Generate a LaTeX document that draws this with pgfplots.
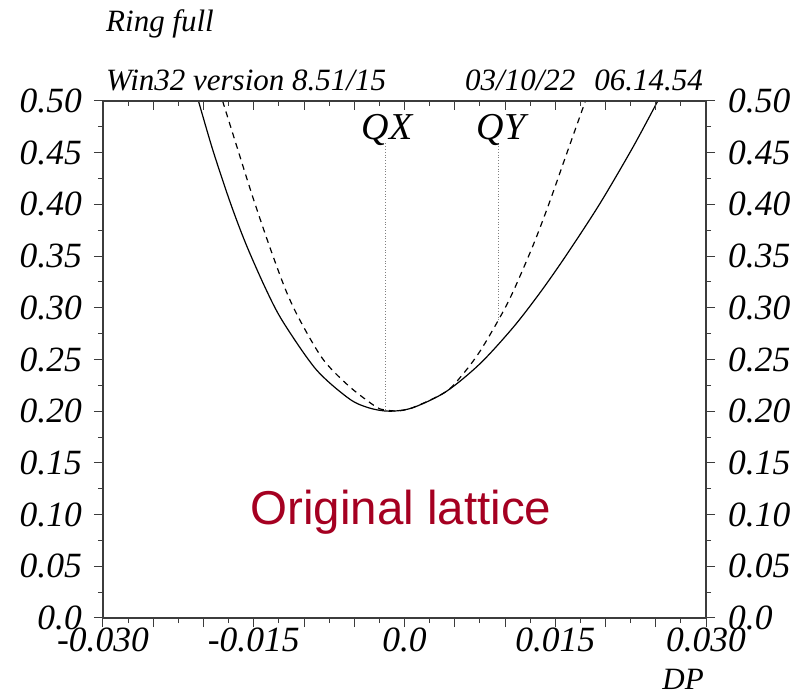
\documentclass[border=0pt]{standalone}
\usepackage{pgfplots}
\pgfplotsset{compat=1.18}
\usepackage{fontspec}
\setmainfont{Liberation Serif}
\newfontfamily\arialfont{Liberation Sans}
\definecolor{lattred}{RGB}{165,0,33}
\definecolor{axgray}{RGB}{60,60,60}
\newcommand{\tickfont}{\fontsize{35.5bp}{36bp}\selectfont\itshape}
\newcommand{\headfont}{\fontsize{31bp}{32bp}\selectfont\itshape}
\begin{document}
\begin{tikzpicture}[x=1bp,y=1bp]
\pgfplotsset{common/.style={
  scale only axis, width=603bp, height=517bp,
  xmin=-0.03, xmax=0.03, ymin=0, ymax=0.5,
  scaled x ticks=false, scaled y ticks=false,
  axis line style={line width=1.2bp, axgray},
  every tick/.style={line width=1bp, axgray},
  major tick length=9bp, minor tick length=5bp,
  xtick={-0.03,-0.025,-0.02,-0.015,-0.01,-0.005,0,0.005,0.01,0.015,0.02,0.025,0.03},
  minor x tick num=1,
  ytick={0,0.05,0.1,0.15,0.2,0.25,0.3,0.35,0.4,0.45,0.5},
  minor y tick num=1,
  yticklabels={0.0,0.05,0.10,0.15,0.20,0.25,0.30,0.35,0.40,0.45,0.50},
  xticklabels={-0.030,,,-0.015,,,0.0,,,0.015,,,0.030},
  clip=false,
}}
% main axis
\begin{axis}[common,
  tick align=outside,
  xtick pos=left, xticklabel pos=left,
  ytick pos=left, yticklabel pos=left,
  xticklabel style={font=\tickfont, anchor=north, inner sep=0pt, yshift=-1bp},
  yticklabel style={font=\tickfont, anchor=east, inner sep=0pt, xshift=-12bp},
]
% solid curve
\addplot[black, line width=1.2bp, smooth] coordinates {
(-0.0205,0.500) (-0.0191,0.4534) (-0.0174,0.4035) (-0.0158,0.3622)
(-0.0138,0.3182) (-0.0121,0.2866) (-0.0088,0.2404) (-0.0055,0.2120)
(-0.0035,0.2031) (-0.0015,0.2000) (0.0008,0.2033) (0.0041,0.2187)
(0.0075,0.2458) (0.0108,0.2809) (0.0135,0.3148) (0.0161,0.3509)
(0.0194,0.4001) (0.0227,0.4548) (0.0252,0.500)};
% dashed curve
\addplot[black, line width=1.2bp, dash pattern=on 6bp off 5bp, smooth] coordinates {
(-0.0181,0.500) (-0.0167,0.4565) (-0.0151,0.4072) (-0.0134,0.3586)
(-0.0118,0.3167) (-0.0104,0.2879) (-0.0081,0.2501) (-0.0055,0.2240)
(-0.0028,0.2040) (-0.0018,0.2012) (-0.0008,0.2002) (0.0008,0.2033)
(0.0041,0.2187) (0.0058,0.2357) (0.0075,0.2578) (0.0095,0.2908)
(0.0108,0.3155) (0.0128,0.3605) (0.0144,0.4013) (0.0161,0.4481)
(0.0180,0.500)};
% dotted markers
\addplot[gray, line width=0.8bp, dotted] coordinates {(-0.0019,0.459) (-0.0019,0.200)};
\addplot[gray, line width=0.8bp, dotted] coordinates {(0.0093,0.459) (0.0093,0.288)};
\end{axis}
% right labels
\begin{axis}[common,
  hide x axis, axis y line*=right,
  tick align=outside,
  yticklabel style={font=\tickfont, anchor=west, inner sep=0pt, xshift=13bp},
]
\end{axis}
% top ticks
\begin{axis}[common,
  hide y axis, axis x line*=top,
  tick align=inside,
  xticklabels={},
]
\end{axis}
% texts
\node[anchor=base west, inner sep=0pt, font=\headfont] at (3,586) {Ring full};
\node[anchor=base west, inner sep=0pt, font=\headfont] at (3,527) {Win32 version 8.51/15};
\node[anchor=base west, inner sep=0pt, font=\headfont] at (362,527) {03/10/22};
\node[anchor=base east, inner sep=0pt, font=\headfont] at (600,527) {06.14.54};
\node[anchor=base east, inner sep=0pt, font=\headfont] at (601,-72) {DP};
\node[anchor=base, inner sep=0pt, font=\fontsize{38bp}{38bp}\selectfont\itshape] at (284,478) {QX};
\node[anchor=base, inner sep=0pt, font=\fontsize{38bp}{38bp}\selectfont\itshape] at (398,478) {QY};
\node[anchor=base, inner sep=0pt, text=lattred, font=\fontsize{47.5bp}{48bp}\selectfont\arialfont] at (298,93) {Original lattice};
\path (-103,-79) rectangle (692,618);
\end{tikzpicture}
\end{document}
